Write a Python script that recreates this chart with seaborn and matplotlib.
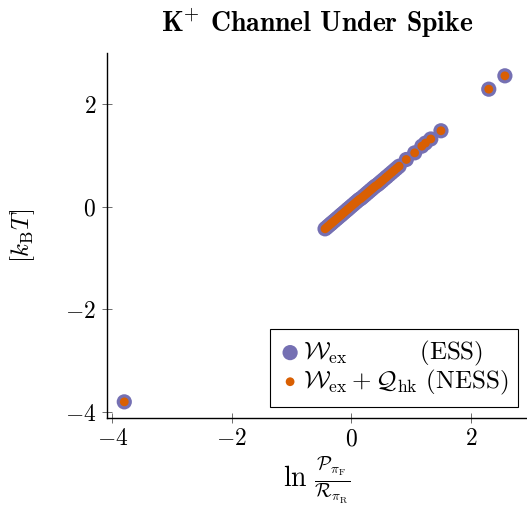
import matplotlib
matplotlib.use("Agg")
import matplotlib.pyplot as plt
import seaborn as sns

# -----------------------------
# Data
# -----------------------------
log_ratio = [-3.80, -0.44, -0.41, -0.38, -0.35, -0.33, -0.30, -0.27, -0.24,
             -0.21, -0.18, -0.16, -0.13, -0.10, -0.07, -0.05, -0.02, 0.01,
             0.04, 0.07, 0.10, 0.13, 0.16, 0.19, 0.22, 0.25, 0.28, 0.31,
             0.34, 0.37, 0.40, 0.44, 0.47, 0.50, 0.53, 0.57, 0.60, 0.64,
             0.68, 0.72, 0.76, 0.80, 0.92, 1.06, 1.18, 1.24, 1.33, 1.50,
             2.30, 2.57]
work_ess = [-3.80, -0.43, -0.40, -0.37, -0.34, -0.32, -0.29, -0.26, -0.23,
            -0.20, -0.17, -0.15, -0.12, -0.09, -0.06, -0.04, -0.01, 0.02,
            0.05, 0.08, 0.11, 0.14, 0.16, 0.19, 0.22, 0.25, 0.28, 0.31,
            0.34, 0.37, 0.40, 0.43, 0.46, 0.49, 0.52, 0.56, 0.59, 0.63,
            0.67, 0.71, 0.75, 0.79, 0.92, 1.05, 1.18, 1.24, 1.32, 1.48,
            2.29, 2.55]
work_ness = list(work_ess)

purple, orange = sns.color_palette("Dark2")[2], sns.color_palette("Dark2")[1]

sns.set_style("white")
plt.rcParams["mathtext.fontset"] = "cm"
plt.rcParams["font.family"] = ["cmr10", "DejaVu Serif"]
plt.rcParams["axes.formatter.use_mathtext"] = True
plt.rcParams["text.color"] = "black"
plt.rcParams["axes.labelcolor"] = "black"
plt.rcParams["xtick.labelcolor"] = "black"
plt.rcParams["ytick.labelcolor"] = "black"

fig = plt.figure(figsize=(5.27, 5.07), dpi=100)
ax = fig.add_axes([0.2025, 0.176, 0.7975, 0.72])

# -----------------------------
# Scatter
# -----------------------------
sns.scatterplot(x=log_ratio, y=work_ess, color=purple, s=120,
                edgecolor="none", ax=ax,
                label=r"$\mathcal{W}_{\rm ex}\qquad\quad\;$(ESS)")
sns.scatterplot(x=log_ratio, y=work_ness, color=orange, s=40,
                edgecolor="none", ax=ax,
                label=r"$\mathcal{W}_{\rm ex} + \mathcal{Q}_{\rm hk}$ (NESS)")

ax.set_xlim(-4.094, 2.94)
ax.set_ylim(-4.11, 3.0)
ax.set_xticks([-4, -2, 0, 2])
ax.set_yticks([-4, -2, 0, 2])

for side in ["top", "right"]:
    ax.spines[side].set_visible(False)
for side in ["left", "bottom"]:
    ax.spines[side].set_color("black")
    ax.spines[side].set_linewidth(1.0)

ax.tick_params(direction="inout", length=7, width=0.6, color="#555555",
               labelsize=17, left=True, bottom=True, pad=4)

ax.set_title(r"K$^{\mathbf{+}}$ Channel Under Spike", fontfamily="cmb10",
             fontsize=20, pad=15)
ax.set_xlabel(r"$\ln\,\frac{\mathcal{P}_{\pi_{\rm F}}}{\mathcal{R}_{\pi_{\rm R}}}$",
              fontsize=20, labelpad=3)
ax.set_ylabel(r"$[k_{\rm B}T]$", fontsize=18, labelpad=20)

leg = ax.legend(loc="lower right", bbox_to_anchor=(0.9786, 0.03),
                borderaxespad=0, fancybox=False, edgecolor="black",
                framealpha=1, fontsize=18, handletextpad=0.1,
                handlelength=0.8, borderpad=0.4, labelspacing=0.0)
leg.get_frame().set_linewidth(0.8)

fig.savefig("out.png", dpi=100)
